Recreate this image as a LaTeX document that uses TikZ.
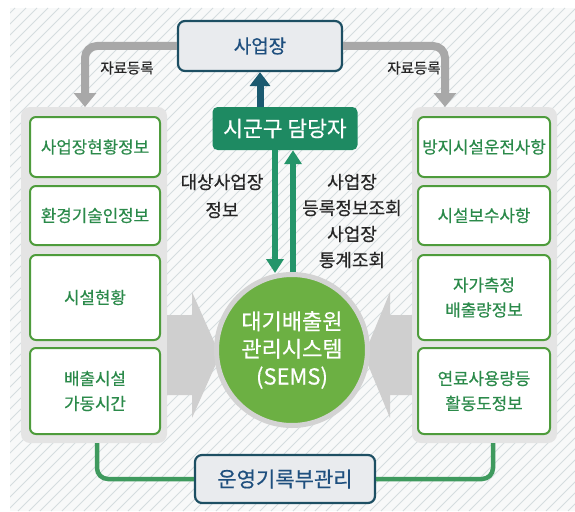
\documentclass[tikz,border=0pt]{standalone}
\usepackage{fontspec}
\setmainfont{Noto Sans CJK KR}[FakeBold=0.5]
\usetikzlibrary{arrows.meta}
\definecolor{hatchbg}{HTML}{F8F9F9}
\definecolor{hatchln}{HTML}{D5DCDF}
\definecolor{tealbd}{HTML}{1D4F63}
\definecolor{tealtx}{HTML}{1E4F7E}
\definecolor{boxfill}{HTML}{E9EBEE}
\definecolor{arrgray}{HTML}{A8A8A8}
\definecolor{biggray}{HTML}{CFCFCF}
\definecolor{panel}{HTML}{E4E4E4}
\definecolor{innerbd}{HTML}{4E9C3C}
\definecolor{innertx}{HTML}{2B8A4A}
\definecolor{sgfill}{HTML}{1E8A62}
\definecolor{sgarrow}{HTML}{24956A}
\definecolor{uparrow}{HTML}{1B5A70}
\definecolor{circfill}{HTML}{6CB043}
\definecolor{ringgray}{HTML}{D3D3D3}
\definecolor{greenline}{HTML}{3F9A5E}
\tikzset{
  topbox/.style={draw=tealbd, line width=2.2pt, fill=boxfill, rounded corners=7pt, inner sep=0pt, text=tealtx},
  panelbox/.style={fill=panel, rounded corners=9pt, inner sep=0pt},
  innerbox/.style={draw=innerbd, line width=2pt, fill=white, rounded corners=6pt, inner sep=0pt, text=innertx, align=center, font=\fontsize{16.8}{25}\selectfont},
  grayarr/.style={draw=arrgray, line width=8pt, rounded corners=12pt, -{Triangle[width=22pt,length=14pt]}},
  sgarr/.style={draw=sgarrow, line width=6pt, -{Triangle[width=17pt,length=14pt]}},
  lbl/.style={align=center, text=black!85, inner sep=0pt},
  gline/.style={draw=greenline, line width=4.5pt, rounded corners=11pt},
}
\begin{document}
\begin{tikzpicture}[x=1pt,y=-1pt]
\useasboundingbox (0,0) rectangle (575,511);
% hatched background
\fill[hatchbg] (10,8) rectangle (575,511);
\begin{scope}
\clip (10,8) rectangle (575,511);
\foreach \i in {-510,-499,...,580} \draw[hatchln, line width=0.9pt] (\i,511) -- ++(503,-503);
\end{scope}

% panels
\node[panelbox, minimum width=146pt, minimum height=336pt] (lp) at (94,275) {};
\node[panelbox, minimum width=145pt, minimum height=336pt] (rp) at (484.5,275) {};

% top box
\node[topbox, minimum width=164pt, minimum height=50pt, font=\fontsize{19}{21}\selectfont] (sa) at (260,46) {사업장};

% grey arrows
\coordinate (ltip) at (85,107);
\coordinate (rtip) at (445,107);
\draw[grayarr] (sa.west) -| (ltip);
\draw[grayarr] (sa.east) -| (rtip);
\node[lbl, font=\fontsize{14.5}{16}\selectfont] (l1) at (127,68) {자료등록};
\node[lbl, font=\fontsize{14.5}{16}\selectfont] (l2) at (414,68) {자료등록};

% 시군구 담당자
\node[fill=sgfill, rounded corners=5pt, minimum width=145pt, minimum height=43pt, inner sep=0pt, text=white, font=\fontsize{21.5}{23}\selectfont] (sg) at (285,128.5) {시군구 담당자};
\draw[draw=uparrow, line width=7pt, -{Triangle[width=20pt,length=14pt]}] (sa.south |- sg.north) -- (sa.south);

% green arrows
\coordinate (dtip) at (275,273);
\coordinate (ubase) at (293,285);
\draw[sgarr] (sg.south -| dtip) -- (dtip);
\draw[sgarr] (ubase) -- (ubase |- sg.south);

\node[lbl, font=\fontsize{18}{28}\selectfont] (lab1) at (222,196) {대상사업장\\정보};
\node[lbl, font=\fontsize{18}{26}\selectfont] (lab2) at (352,221) {사업장\\등록정보조회\\사업장\\통계조회};

% big grey arrows
\fill[biggray] (lp.east |- 0,315) -- (192,315) -- (192,292) -- (220,355) -- (192,418) -- (192,395) -- (lp.east |- 0,395) -- cycle;
\fill[biggray] (rp.west |- 0,315) -- (390,315) -- (390,292) -- (364,355) -- (390,418) -- (390,395) -- (rp.west |- 0,395) -- cycle;

% circle
\node[circle, fill=circfill, draw=ringgray, line width=5pt, minimum size=151pt, inner sep=0pt, text=white, align=center, font=\fontsize{22}{27.5}\selectfont] (sems) at (292,350) {대기배출원\\관리시스템\\(SEMS)};

% inner boxes left
\node[innerbox, minimum width=130pt, minimum height=60pt] (a1) at (95,147) {사업장현황정보};
\node[innerbox, minimum width=130pt, minimum height=59pt] (a2) at (95,215.5) {환경기술인정보};
\node[innerbox, minimum width=130pt, minimum height=85pt] (a3) at (95,297.5) {시설현황};
\node[innerbox, minimum width=130pt, minimum height=86pt] (a4) at (95,391) {배출시설\\가동시간};
% inner boxes right
\node[innerbox, minimum width=132pt, minimum height=60pt] (b1) at (484,147) {방지시설운전사항};
\node[innerbox, minimum width=132pt, minimum height=59pt] (b2) at (484,215.5) {시설보수사항};
\node[innerbox, minimum width=132pt, minimum height=85pt] (b3) at (484,297.5) {자가측정\\배출량정보};
\node[innerbox, minimum width=132pt, minimum height=86pt] (b4) at (484,391) {연료사용량등\\활동도정보};

% bottom box and green connectors
\node[topbox, minimum width=180pt, minimum height=48pt, font=\fontsize{21}{23}\selectfont] (ops) at (285,479) {운영기록부관리};
\coordinate (lbot) at (97,443);
\coordinate (rbot) at (493,443);
\draw[gline] (lbot) |- (ops.west);
\draw[gline] (rbot) |- (ops.east);
\end{tikzpicture}
\end{document}
